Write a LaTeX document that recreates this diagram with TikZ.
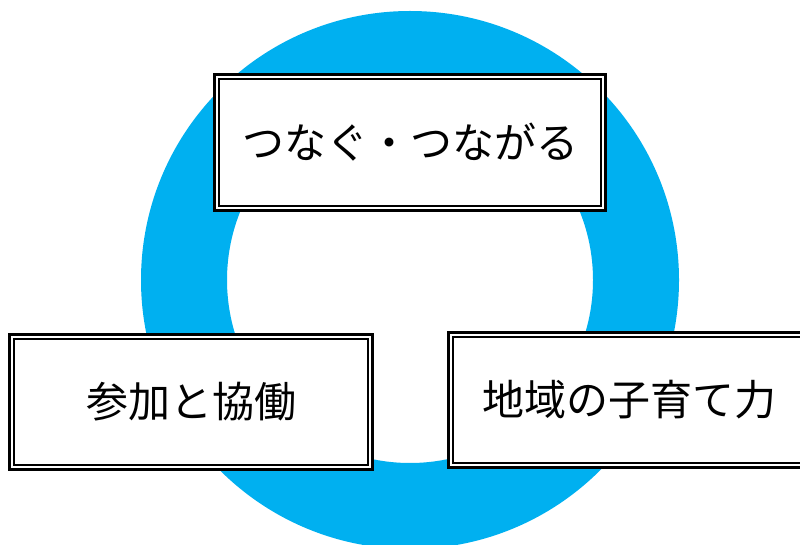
\documentclass[tikz,border=0pt]{standalone}
\usepackage{fontspec}
\setmainfont{Noto Sans CJK JP}
\usepackage{xcolor}
\usepackage{tikz}
\usetikzlibrary{positioning}
\definecolor{ringblue}{HTML}{00B0F0}

\begin{document}
\begin{tikzpicture}[x=1pt,y=-1pt,
    keybox/.style={draw=black, double=white, line width=2.6pt, double distance=2pt,
      fill=white, inner sep=0pt, minimum height=130.8pt,
      font=\fontsize{42pt}{50pt}\selectfont}]
        \clip (0,0) rectangle (800,545);

        % Ring
        \fill[ringblue, even odd rule] (410,280) circle[radius=269pt] (410,280) circle[radius=183pt];

        % Boxes
        \node[keybox, minimum width=386.8pt, minimum height=131.8pt] (tsunagu) at (410,142.5) {つなぐ・つながる};
        \node[keybox, minimum width=358.8pt] (sanka) at (191,402) {参加と協働};
        \node[keybox, minimum width=356.8pt] (kosodate) at (629,400) {地域の子育て力};
    \end{tikzpicture}
\end{document}
